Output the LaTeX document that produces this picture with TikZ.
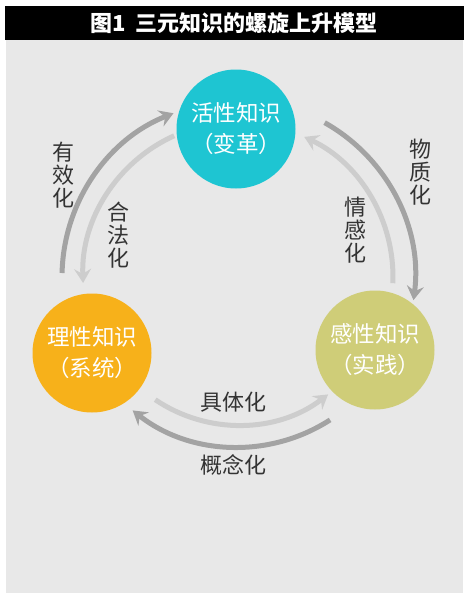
\documentclass[tikz,border=0pt]{standalone}
\usepackage{fontspec}
\setmainfont{Noto Sans CJK SC}
\usetikzlibrary{arrows.meta}
\definecolor{panelgray}{HTML}{E8E8E8}
\definecolor{darkarrow}{HTML}{A3A3A3}
\definecolor{lightarrow}{HTML}{CDCDCD}
\definecolor{activecyan}{HTML}{1EC5D2}
\definecolor{rationalorange}{HTML}{F7B11A}
\definecolor{perceptolive}{HTML}{CFCD78}
\definecolor{labeltext}{HTML}{333333}
\begin{document}
\begin{tikzpicture}[
x=1pt,y=1pt,
knowledge/.style={
circle,
minimum size=119pt,
inner sep=0pt,
align=center,
text=white,
font=\fontsize{22.5}{31}\selectfont
},
darkarc/.style={
draw=darkarrow,
line width=5pt,
-{Stealth[length=14pt,width=17pt,inset=5pt]}
},
lightarc/.style={
draw=lightarrow,
line width=5pt,
-{Stealth[length=14pt,width=17pt,inset=5pt]}
},
arclabel/.style={
text=labeltext,
align=center,
font=\fontsize{22}{23}\selectfont
}
]

\useasboundingbox (0,0) rectangle (472,-605);

% =======================
% BACKGROUND AND TITLE
% =======================

\fill[panelgray] (6,-40) rectangle (463,-593);
\fill[black] (5,-6) rectangle (464,-40);
\node[text=white,font=\fontsize{22}{26}\selectfont\bfseries] (title) at (234,-23)
{图1\ \ 三元知识的螺旋上升模型};

% =======================
% THREE KINDS OF KNOWLEDGE
% =======================

\node[knowledge,fill=activecyan] (active) at (236,-129)
{活性知识\\（变革）};

\node[knowledge,fill=rationalorange] (rational) at (92,-353)
{理性知识\\（系统）};

\node[knowledge,fill=perceptolive] (perceptual) at (375,-350)
{感性知识\\（实践）};

\coordinate (hub) at (238,-277);

% =======================
% ARROWS
% =======================

% rational -> active and back
\draw[darkarc] ([shift={(178.7:176)}]hub) arc[start angle=178.7,end angle=111.5,radius=176];
\draw[lightarc] ([shift={(114.3:155)}]hub) arc[start angle=114.3,end angle=182.2,radius=155];

% active -> perceptual and back
\draw[darkarc] ([shift={(60.7:177)}]hub) arc[start angle=60.7,end angle=-7.5,radius=177];
\draw[lightarc] ([shift={(-2.3:155)}]hub) arc[start angle=-2.3,end angle=64.7,radius=155];

% rational -> perceptual and back
\draw[lightarc] ([shift={(236:148)}]hub) arc[start angle=236,end angle=307.5,radius=148];
\draw[darkarc] ([shift={(302.8:170)}]hub) arc[start angle=302.8,end angle=231.7,radius=170];

% =======================
% LABELS
% =======================

\node[arclabel] (effective) at (63,-175) {有\\效\\化};
\node[arclabel] (legal) at (118,-235) {合\\法\\化};
\node[arclabel] (material) at (420,-172) {物\\质\\化};
\node[arclabel] (emotional) at (355,-230) {情\\感\\化};
\node[arclabel] (concrete) at (233,-402) {具体化};
\node[arclabel] (concept) at (233,-465) {概念化};

\end{tikzpicture}
\end{document}
